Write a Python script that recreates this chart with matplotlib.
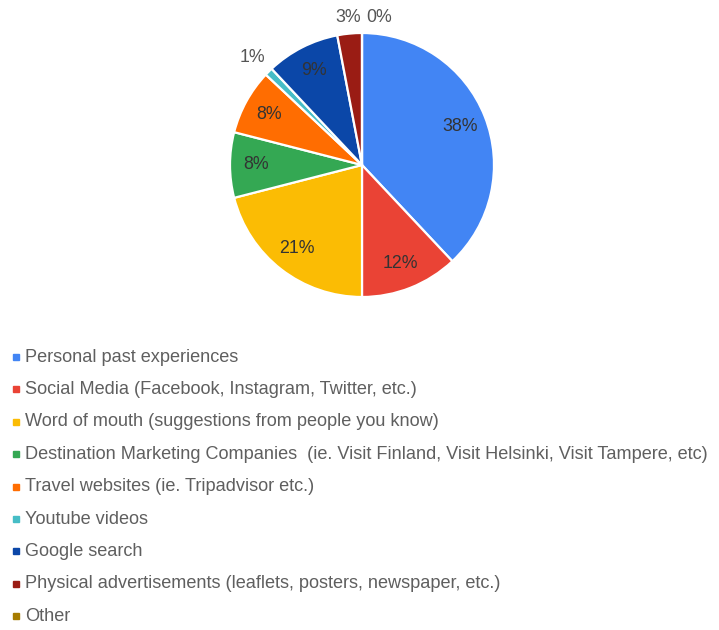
import numpy as np
import matplotlib
matplotlib.use("Agg")
import matplotlib.pyplot as plt
from matplotlib.lines import Line2D

categories = [
    "Personal past experiences",
    "Social Media (Facebook, Instagram, Twitter, etc.)",
    "Word of mouth (suggestions from people you know)",
    "Destination Marketing Companies  (ie. Visit Finland, Visit Helsinki, Visit Tampere, etc)",
    "Travel websites (ie. Tripadvisor etc.)",
    "Youtube videos",
    "Google search",
    "Physical advertisements (leaflets, posters, newspaper, etc.)",
    "Other",
]
shares = [38, 12, 21, 8, 8, 1, 9, 3, 0]
colors = ["#4285f4", "#ea4335", "#fbbc04", "#34a853", "#ff6d01",
          "#46bdc6", "#0b47a8", "#9a1c14", "#a67c00"]

plt.rcParams['font.family'] = ['Liberation Sans', 'DejaVu Sans']

W, H = 719, 630
fig = plt.figure(figsize=(W / 100, H / 100), dpi=100)
fig.patch.set_facecolor("white")

cx, cy, r = 362, 165, 132
ax = fig.add_axes([(cx - r) / W, (H - cy - r) / H, 2 * r / W, 2 * r / H])
wedges, _ = ax.pie(shares, colors=colors, startangle=90, counterclock=False,
                   radius=1, wedgeprops=dict(edgecolor="white", linewidth=1.6))
ax.set_xlim(-1, 1)
ax.set_ylim(-1, 1)
ax.axis("off")

total = sum(shares)
for w, v in zip(wedges, shares):
    mid = np.deg2rad((w.theta1 + w.theta2) / 2)
    label = f"{round(100 * v / total)}%"
    if v / total >= 0.05:
        d = 0.8
        ax.text(d * np.cos(mid), d * np.sin(mid), label, ha="center", va="center",
                fontsize=12.8, color="#333333")
    else:
        d = 1.12
        x, y = d * np.cos(mid), d * np.sin(mid)
        if v == 0:
            x += 0.13
        elif v / total < 0.02:
            x -= 0.04
            y += 0.02
        ax.text(x, y, label, ha="center", va="center",
                fontsize=12.8, color="#555555")

# legend rows
y0, step = 357, 32.4
for i, (lab, c) in enumerate(zip(categories, colors)):
    yy = 1 - (y0 + step * i) / H
    fig.add_artist(Line2D([16 / W], [yy], marker="s", markersize=4.3,
                          color=c, linestyle="none", transform=fig.transFigure))
    fig.text(25 / W, yy, lab, ha="left", va="center", fontsize=13.1,
             color="#5f5f5f")

fig.savefig("out.png", dpi=100)
